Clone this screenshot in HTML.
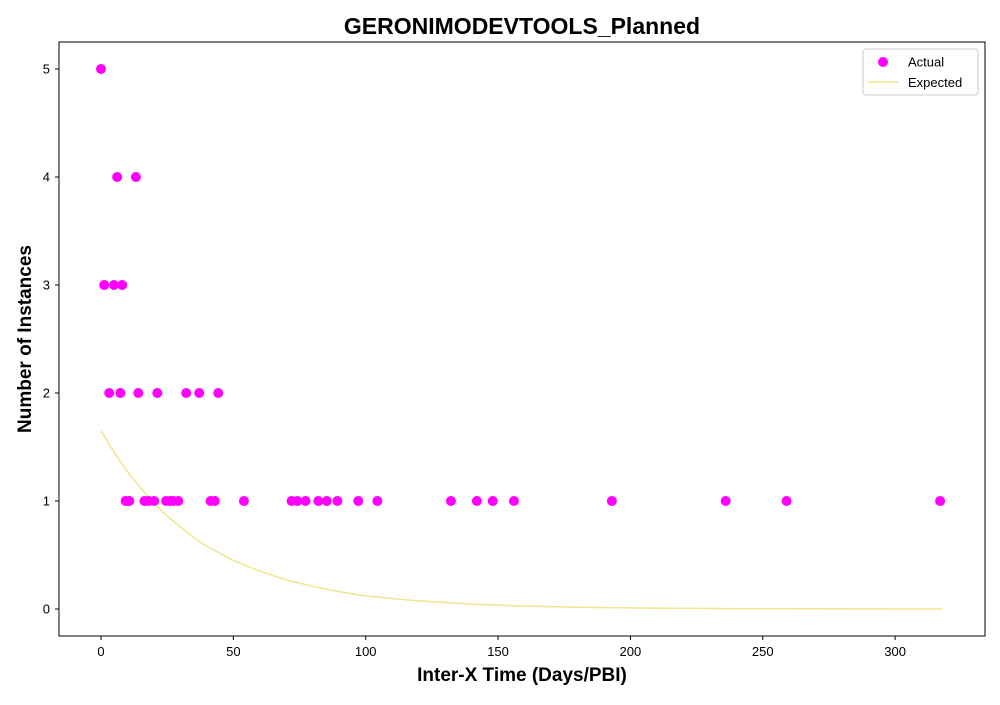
<!DOCTYPE html>
<html><head><meta charset="utf-8"><style>
body{margin:0;background:#fff;}
svg text{font-family:"Liberation Sans","DejaVu Sans",sans-serif;}
</style></head><body>
<svg id="chart" width="1000" height="700">
<rect width="1000" height="700" fill="#fff"/>
<text x="522" y="34" text-anchor="middle" font-size="23" font-weight="bold">GERONIMODEVTOOLS_Planned</text>
<g id="grid"></g>
<g id="marks"></g>
<rect x="59" y="42" width="926" height="594" fill="none" stroke="#000" stroke-width="1"/>
<text x="522" y="681" text-anchor="middle" font-size="19" font-weight="bold">Inter-X Time (Days/PBI)</text>
<text transform="translate(31,339) rotate(-90)" text-anchor="middle" font-size="19" font-weight="bold">Number of Instances</text>
<g>
<rect x="863" y="49" width="115" height="46" rx="3" fill="#fff" stroke="#ccc"/>
<circle cx="883" cy="62" r="5" fill="#ff00ff"/>
<text x="908" y="66.5" font-size="13">Actual</text>
<line x1="868" y1="82" x2="898" y2="82" stroke="#f0e68c" stroke-width="1.5"/>
<text x="908" y="87" font-size="13">Expected</text>
</g>
</svg>
<script>
const actualX=[0,1.2,4.9,8.0,6.1,13.2,3.1,7.3,14.1,21.3,32.2,37.1,44.3,9.3,10.7,16.4,17.9,20.1,24.6,26.1,27.3,29.2,41.4,43.0,54.0,72.0,74.2,77.3,82.1,85.3,89.3,97.2,104.4,132.2,142,148,156,193,236,259,317];
const actualY=[5,3,3,3,4,4,2,2,2,2,2,2,2,1,1,1,1,1,1,1,1,1,1,1,1,1,1,1,1,1,1,1,1,1,1,1,1,1,1,1,1];
const expectedX=[0,5,10,15,20,25,30,35,40,50,60,70,80,90,100,120,140,160,180,200,240,280,318];
const expectedY=[1.65,1.45,1.27,1.12,0.98,0.86,0.76,0.66,0.58,0.45,0.35,0.27,0.21,0.16,0.12,0.075,0.045,0.027,0.016,0.01,0.004,0.001,0.0];
const xTicks=[0,50,100,150,200,250,300];
const yTicks=[0,1,2,3,4,5];
const NS="http://www.w3.org/2000/svg";
const sx=v=>101+v*2.647;
const sy=v=>609-v*108;
const grid=document.getElementById('grid'),marks=document.getElementById('marks');
function mk(tag,at,parent){const e=document.createElementNS(NS,tag);for(const k in at)e.setAttribute(k,at[k]);parent.appendChild(e);return e;}
xTicks.forEach(t=>{
 const l=mk('line',{x1:sx(t),x2:sx(t),y1:636,y2:640,stroke:'#000'},grid);
 
 
 const tx=mk('text',{x:sx(t),y:656,'text-anchor':'middle','font-size':'13'},grid);tx.textContent=t;
 
 
});
yTicks.forEach(t=>{
 const l=mk('line',{x1:55,x2:59,y1:sy(t),y2:sy(t),stroke:'#000'},grid);
 
 
 const tx=mk('text',{x:50,y:sy(t)+4.5,'text-anchor':'end','font-size':'13'},grid);tx.textContent=t;
 
 
});
const pts=expectedX.map((x,i)=>sx(x)+','+sy(expectedY[i])).join(' ');
const pl=mk('polyline',{points:pts,fill:'none',stroke:'#f0e68c','stroke-width':'1.5','stroke-linejoin':'round'},marks);


actualX.forEach((x,i)=>{
 const c=mk('circle',{cx:sx(x),cy:sy(actualY[i]),r:5,fill:'#ff00ff'},marks);
 
 
});
</script>
</body></html>
